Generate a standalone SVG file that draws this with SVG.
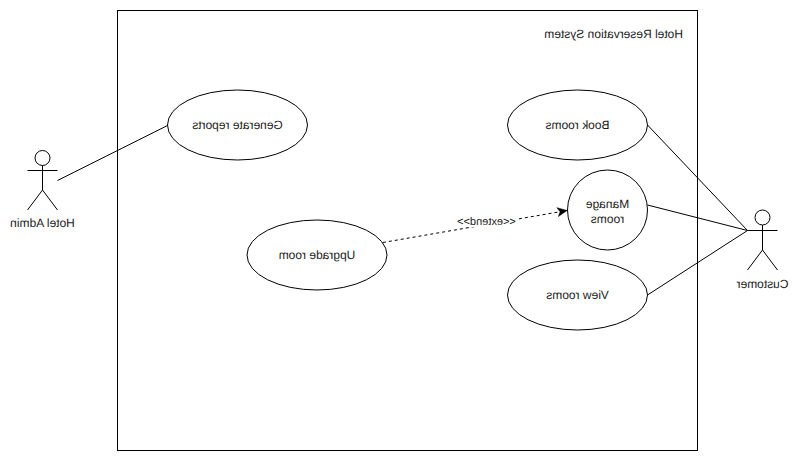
<svg xmlns="http://www.w3.org/2000/svg" width="799" height="462" viewBox="0 0 799 462">
  <style>
    .shape { fill: #fff; stroke: #000; stroke-width: 1; }
    .stick { fill: none; stroke: #000; stroke-width: 1; }
    .link { fill: none; stroke: #000; stroke-width: 1; }
    .dash { stroke-dasharray: 3 3; }
    text { font-family: "Liberation Sans", Arial, sans-serif; font-size: 12px; fill: #1c1c1c; text-anchor: middle; text-rendering: geometricPrecision; }
    .small { font-size: 11px; }
    .left { text-anchor: start; }
  </style>
  <defs>
    <marker id="open-head" markerUnits="userSpaceOnUse" markerWidth="13" markerHeight="11" refX="10" refY="5" orient="auto">
      <path d="M0.5 0.5 L10 5 L0.5 9.5 L3 5 Z" fill="#000" stroke="#000" stroke-width="0.5"/>
    </marker>
  </defs>
  <rect width="799" height="462" fill="#fff"/>

  <g id="system-boundary">
    <rect class="shape" x="117.5" y="10.5" width="580" height="440"/>
    <text class="left" transform="matrix(-1 0 0 1 683 38)">Hotel Reservation System</text>
  </g>

  <g id="uc-generate-reports">
    <ellipse class="shape" cx="237.5" cy="125" rx="70" ry="35"/>
    <text transform="matrix(-1 0 0 1 237.5 129)">Generate reports</text>
  </g>
  <g id="uc-book-rooms">
    <ellipse class="shape" cx="577.5" cy="125" rx="70" ry="35"/>
    <text transform="matrix(-1 0 0 1 577.5 129)">Book rooms</text>
  </g>
  <g id="uc-manage-rooms">
    <circle class="shape" cx="607.5" cy="210" r="40"/>
    <text transform="matrix(-1 0 0 1 607.5 207.5)">Manage</text>
    <text transform="matrix(-1 0 0 1 607.5 222.5)">rooms</text>
  </g>
  <g id="uc-view-rooms">
    <ellipse class="shape" cx="577.5" cy="295" rx="70" ry="35"/>
    <text transform="matrix(-1 0 0 1 577.5 299)">View rooms</text>
  </g>
  <g id="uc-upgrade-room">
    <ellipse class="shape" cx="317" cy="255" rx="70" ry="35"/>
    <text transform="matrix(-1 0 0 1 317 259)">Upgrade room</text>
  </g>

  <g id="actor-hotel-admin">
    <circle class="stick" cx="42.5" cy="158" r="7.5"/>
    <path class="stick" d="M42.5 165.5 V190 M27.5 170.5 H57.5 M27.5 210 L42.5 190 L57.5 210"/>
    <text transform="matrix(-1 0 0 1 42.5 227)">Hotel Admin</text>
  </g>
  <g id="actor-customer">
    <circle class="stick" cx="762.5" cy="217.5" r="7.5"/>
    <path class="stick" d="M762.5 225 V250 M747.5 230.5 H777.5 M747.5 270 L762.5 250 L777.5 270"/>
    <text transform="matrix(-1 0 0 1 762.5 288)">Customer</text>
  </g>

  <g id="connectors">
    <path class="link" d="M57.5 180.5 L167.5 125.5"/>
    <path class="link" d="M647.5 125 L747.5 230.5"/>
    <path class="link" d="M647.5 205 L747.5 230.5"/>
    <path class="link" d="M647.5 295 L747.5 230.5"/>
    <path class="link dash" d="M383 242.5 L567 210.5" marker-end="url(#open-head)"/>
    <rect x="457" y="215" width="59" height="12" fill="#fff"/>
    <text class="small" transform="matrix(-1 0 0 1 486.5 225)">&lt;&lt;extend&gt;&gt;</text>
  </g>
</svg>
